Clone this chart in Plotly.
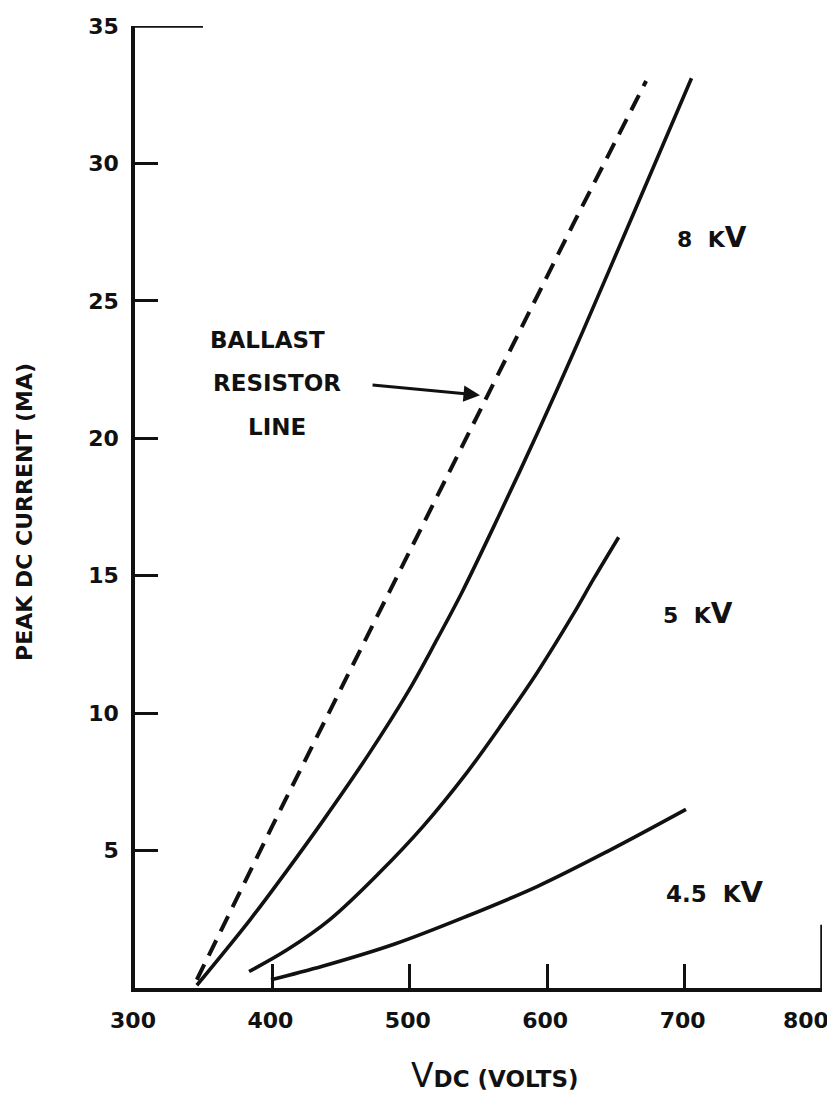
import plotly.graph_objects as go

# ---- data ----
ballast_x = [345, 400, 455, 525, 556, 619, 672]
ballast_y = [0.3, 5.9, 11.4, 18.4, 21.5, 27.8, 33.0]

kv8_x = [345, 384, 411, 437, 470, 499, 520, 538, 565, 593, 619, 645, 675, 705]
kv8_y = [0.1, 2.5, 4.3, 6.1, 8.5, 10.8, 12.7, 14.4, 17.2, 20.2, 23.1, 26.1, 29.6, 33.1]

kv5_x = [383, 411, 442, 478, 510, 541, 567, 593, 619, 634, 652]
kv5_y = [0.6, 1.4, 2.5, 4.2, 5.9, 7.8, 9.6, 11.5, 13.6, 14.9, 16.4]

kv45_x = [399, 437, 489, 541, 593, 645, 701]
kv45_y = [0.3, 0.8, 1.6, 2.6, 3.7, 5.0, 6.5]

x_ticks = [300, 400, 500, 600, 700, 800]
x_tick_text = ["300", "400", "500", "600", "700", ""]
y_ticks = [5, 10, 15, 20, 25, 30, 35]

FONT = "DejaVu Sans"
INK = "#111111"
TICKFONT = dict(family=FONT, size=22, color=INK, weight="bold")

fig = go.Figure()
fig.add_trace(go.Scatter(x=ballast_x, y=ballast_y, mode="lines",
                         line=dict(color=INK, width=4, dash="17px,10px"), showlegend=False))
for xs, ys in [(kv8_x, kv8_y), (kv5_x, kv5_y), (kv45_x, kv45_y)]:
    fig.add_trace(go.Scatter(x=xs, y=ys, mode="lines",
                             line=dict(color=INK, width=3.6, shape="spline", smoothing=1.0),
                             showlegend=False))

# partial frame pieces (top bracket and right-hand bar)
fig.add_shape(type="line", x0=300, x1=349.5, y0=35, y1=35, line=dict(color=INK, width=3.5))
fig.add_shape(type="line", x0=800, x1=800, y0=0, y1=2.3, line=dict(color=INK, width=3.5))

def label(text, x, y, size=22):
    fig.add_annotation(x=x, y=y, xref="x", yref="y", text=text, showarrow=False,
                       font=dict(family=FONT, size=size, color=INK, weight="bold"),
                       xanchor="center", yanchor="middle")

label("BALLAST", 396.1, 23.57, 23)
label("RESISTOR", 403.3, 22.01, 23)
label("LINE", 403.3, 20.41, 23)
label("8&nbsp; K<span style='font-size:28px'>V</span>", 720.0, 27.32)
label("5&nbsp; K<span style='font-size:28px'>V</span>", 709.5, 13.64)
label("4.5&nbsp; K<span style='font-size:29px'>V</span>", 722.0, 3.49, 23)

# "800" tick label, drawn just inside the right edge as in the reference
fig.add_annotation(x=800, y=0, xref="x", yref="y", text="800", showarrow=False,
                   font=TICKFONT, xanchor="center", yanchor="middle",
                   xshift=-16, yshift=-32)

# arrow pointing at ballast line
fig.add_annotation(x=551.1, y=21.57, ax=471.8, ay=21.94, xref="x", yref="y",
                   axref="x", ayref="y", text="", showarrow=True,
                   arrowhead=2, arrowsize=1.1, arrowwidth=3, arrowcolor=INK)

# axis titles
fig.add_annotation(x=-0.160, y=0.495, xref="paper", yref="paper",
                   text="PEAK DC CURRENT (MA)", textangle=-90, showarrow=False,
                   font=dict(family=FONT, size=22, color=INK, weight="bold"),
                   xanchor="center", yanchor="middle")
fig.add_annotation(x=0.524, y=-0.090, xref="paper", yref="paper",
                   text="V<span style='font-size:23px;font-weight:bold'>DC (VOLTS)</span>",
                   showarrow=False, height=34, valign="middle",
                   font=dict(family=FONT, size=33, color=INK),
                   xanchor="center", yanchor="middle")

fig.update_xaxes(range=[300, 800], tickvals=x_ticks, ticktext=x_tick_text,
                 showgrid=False, zeroline=False, showline=True, linecolor=INK, linewidth=3.5,
                 ticks="inside", ticklen=24, tickwidth=3, tickcolor=INK, automargin=False,
                 ticklabelstandoff=10, ticklabelshift=-2,
                 tickfont=TICKFONT)
fig.update_yaxes(range=[0, 35], tickvals=y_ticks, ticktext=[str(v) for v in y_ticks],
                 showgrid=False, zeroline=False, showline=True, linecolor=INK, linewidth=3.5,
                 ticks="inside", ticklen=23, tickwidth=3, tickcolor=INK, automargin=False,
                 ticklabelstandoff=8,
                 tickfont=TICKFONT)

# the page body has an 8px default margin, so size the figure to fit the window
fig.update_layout(width=827, height=1086, plot_bgcolor="white", paper_bgcolor="white",
                  margin=dict(l=127, r=13, t=18, b=106), showlegend=False)

fig.write_html("out.html")
